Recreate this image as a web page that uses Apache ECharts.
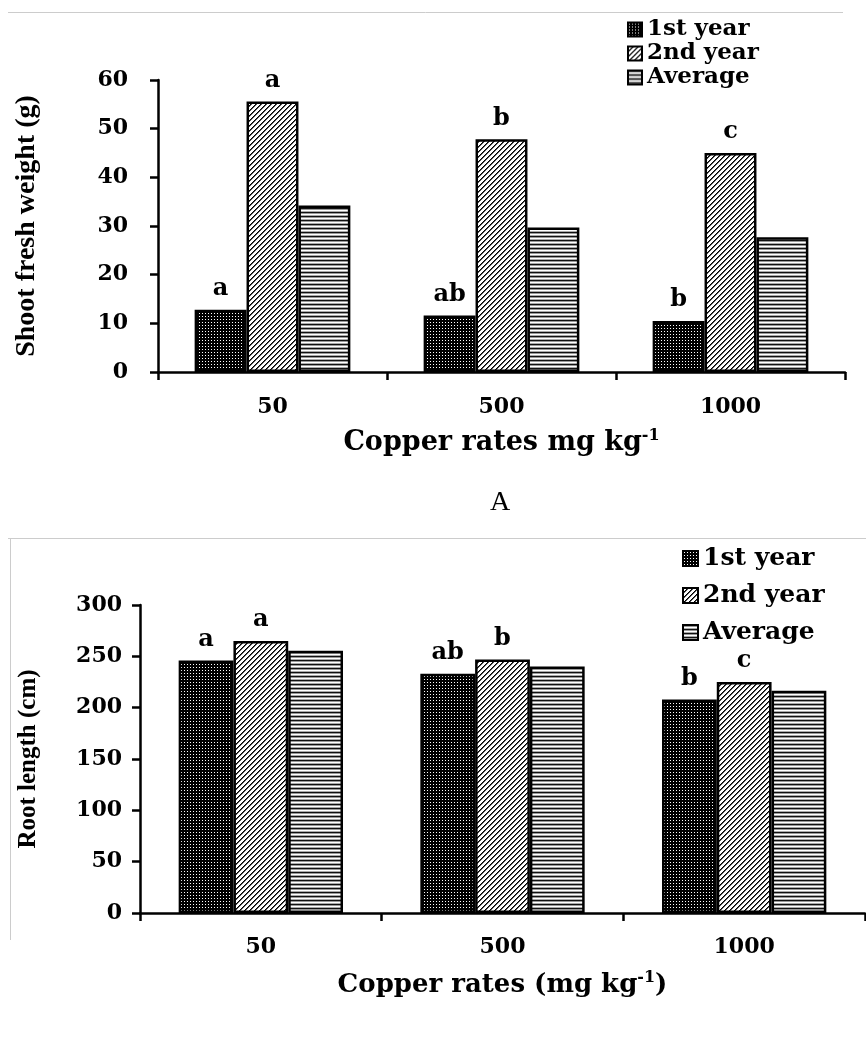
<!DOCTYPE html>
<html><head><meta charset="utf-8">
<script src="https://cdn.jsdelivr.net/npm/echarts@6/dist/echarts.min.js"></script>
<style>html,body{margin:0;padding:0;background:#fff}#c{width:866px;height:1042px}</style>
</head><body><div id="c"></div>
<script>
// ---- data ----
const categories = ['50', '500', '1000'];
const seriesNames = ['1st year', '2nd year', 'Average'];
const shoot1st = [12.8, 11.6, 10.5];
const shoot2nd = [55.6, 47.8, 45.0];
const shootAvg = [34.2, 29.7, 27.7];
const root1st = [246, 233, 208];
const root2nd = [265, 247, 225];
const rootAvg = [255.5, 240, 216.5];
const shootLetters1st = ['a', 'ab', 'b'];
const shootLetters2nd = ['a', 'b', 'c'];
const rootLetters1st = ['a', 'ab', 'b'];
const rootLetters2nd = ['a', 'b', 'c'];
const shootAxis = { min: 0, max: 60, interval: 10 };
const rootAxis = { min: 0, max: 300, interval: 50 };

// ---- patterns ----
function mk(w, h, draw) { const c = document.createElement('canvas'); c.width = w; c.height = h; draw(c.getContext('2d')); return c; }
const dotPat = mk(3, 3, g => { g.fillStyle = '#000'; g.fillRect(0, 0, 3, 3); g.fillStyle = '#fff'; g.fillRect(1, 1, 1, 1); });
const diagPat = mk(5, 5, g => {
  g.fillStyle = '#fff'; g.fillRect(0, 0, 5, 5);
  for (let i = 0; i < 5; i++) {
    g.fillStyle = '#000'; g.fillRect(4 - i, i, 1, 1);
    g.fillStyle = '#555'; g.fillRect((5 - i) % 5, i, 1, 1);
  }
});
const stripePat = mk(1, 4, g => {
  const cols = ['#111', '#999', '#fff', '#aaa'];
  cols.forEach((c, i) => { g.fillStyle = c; g.fillRect(0, i, 1, 1); });
});
const fills = [dotPat, diagPat, stripePat].map(c => ({ image: c, repeat: 'repeat' }));

const FW = '"DejaVu Serif", "Liberation Serif", serif';
const FT = '"Liberation Serif", "Times New Roman", serif';
const boldText = (size, fam) => ({ fontFamily: fam || FW, fontWeight: 'bold', fontSize: size, color: '#000' });
const axisLineStyle = { color: '#000', width: 2.5 };

function makeSeries(name, idx, data, gridIdx, letters) {
  const s = {
    name: name, type: 'bar', xAxisIndex: gridIdx, yAxisIndex: gridIdx,
    data: data, barGap: '0%', barCategoryGap: '32%',
    itemStyle: { color: fills[idx], borderColor: '#000', borderWidth: 2.5 },
    emphasis: { disabled: true }
  };
  if (letters) {
    s.label = {
      show: true, position: 'top', distance: 9,
      formatter: p => letters[p.dataIndex],
      ...boldText(24)
    };
  }
  return s;
}

const supRich = (size) => ({
  a: { ...boldText(size), lineHeight: 30 },
  s: { ...boldText(16), lineHeight: 16, verticalAlign: 'top' }
});

const chart = echarts.init(document.getElementById('c'), null, { renderer: 'canvas' });
chart.setOption({
  animation: false,
  backgroundColor: '#fff',
  grid: [
    { left: 158, top: 80, width: 687, height: 292 },
    { left: 140, top: 605, width: 725, height: 308 }
  ],
  legend: [
    {
      data: seriesNames, orient: 'vertical', left: 622, top: 13, icon: 'rect',
      itemWidth: 14, itemHeight: 14, itemGap: 1, selectedMode: false,
      textStyle: { ...boldText(23), lineHeight: 23 }
    },
    {
      data: seriesNames, orient: 'vertical', left: 677, top: 541, icon: 'rect',
      itemWidth: 15, itemHeight: 15, itemGap: 12, selectedMode: false,
      textStyle: { ...boldText(25), lineHeight: 25 }
    }
  ],
  xAxis: [
    {
      type: 'category', gridIndex: 0, data: categories,
      axisLine: { lineStyle: axisLineStyle },
      axisTick: { show: true, length: 8, lineStyle: axisLineStyle },
      axisLabel: { ...boldText(22), margin: 24 },
      name: '{a|Copper rates mg kg}{s|-1}', nameLocation: 'middle', nameGap: 56,
      nameTextStyle: { rich: supRich(27) }
    },
    {
      type: 'category', gridIndex: 1, data: categories,
      axisLine: { lineStyle: axisLineStyle },
      axisTick: { show: true, length: 8, lineStyle: axisLineStyle },
      axisLabel: { ...boldText(22), margin: 23 },
      name: '{a|Copper rates (mg kg}{s|-1}{a|)}', nameLocation: 'middle', nameGap: 57,
      nameTextStyle: { rich: supRich(26) }
    }
  ],
  yAxis: [
    {
      type: 'value', gridIndex: 0, min: shootAxis.min, max: shootAxis.max, interval: shootAxis.interval,
      axisLine: { show: true, lineStyle: axisLineStyle },
      axisTick: { show: true, length: 8, lineStyle: axisLineStyle },
      splitLine: { show: false },
      axisLabel: { ...boldText(22), margin: 30 },
      name: 'Shoot fresh weight (g)', nameLocation: 'middle', nameGap: 117,
      nameTextStyle: boldText(28, FT)
    },
    {
      type: 'value', gridIndex: 1, min: rootAxis.min, max: rootAxis.max, interval: rootAxis.interval,
      axisLine: { show: true, lineStyle: axisLineStyle },
      axisTick: { show: true, length: 8, lineStyle: axisLineStyle },
      splitLine: { show: false },
      axisLabel: { ...boldText(22), margin: 18 },
      name: 'Root length (cm)', nameLocation: 'middle', nameGap: 99,
      nameTextStyle: boldText(25, FT)
    }
  ],
  series: [
    makeSeries(seriesNames[0], 0, shoot1st, 0, shootLetters1st),
    makeSeries(seriesNames[1], 1, shoot2nd, 0, shootLetters2nd),
    makeSeries(seriesNames[2], 2, shootAvg, 0, null),
    makeSeries(seriesNames[0], 0, root1st, 1, rootLetters1st),
    makeSeries(seriesNames[1], 1, root2nd, 1, rootLetters2nd),
    makeSeries(seriesNames[2], 2, rootAvg, 1, null)
  ],
  graphic: [
    { type: 'line', shape: { x1: 8, y1: 12.5, x2: 843, y2: 12.5 }, style: { stroke: '#ccc', lineWidth: 1 }, silent: true },
    { type: 'line', shape: { x1: 8, y1: 538.5, x2: 866, y2: 538.5 }, style: { stroke: '#ccc', lineWidth: 1 }, silent: true },
    { type: 'line', shape: { x1: 10.5, y1: 538, x2: 10.5, y2: 940 }, style: { stroke: '#ccc', lineWidth: 1 }, silent: true },
    { type: 'text', x: 500, y: 503, style: { text: 'A', fontFamily: FT, fontSize: 28, fill: '#000', align: 'center', verticalAlign: 'middle' }, silent: true }
  ]
});
</script>
</body></html>
